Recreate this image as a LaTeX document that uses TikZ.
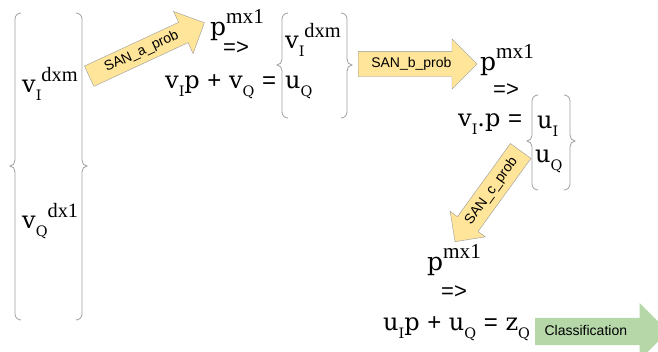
\documentclass[tikz,border=0pt]{standalone}
\usepackage{fontspec}
\usepackage{graphicx}
\setmainfont{DejaVu Serif}
\newfontfamily\opfont{Liberation Sans}
\newfontfamily\supfont{Liberation Serif}
\usetikzlibrary{shapes.arrows}
\definecolor{sanfill}{HTML}{FFE599}
\definecolor{clsfill}{HTML}{B6D7A8}
% sub- and superscripts set beside each other
\newcommand\lo[1]{\raisebox{-0.35em}{\scalebox{0.6}{#1}}}
\newcommand\hi[1]{\raisebox{0.45em}{\scalebox{0.85}{\supfont #1}}}
% braces: x, top, middle, bottom
\newcommand\bracel[4]{\draw[brace] ({#1+6},#2) to[out=180,in=90] (#1,{#2+6}) -- (#1,{#3-6})
  to[out=-90,in=0] ({#1-5},#3) to[out=0,in=90] (#1,{#3+6}) -- (#1,{#4-6}) to[out=-90,in=180] ({#1+6},#4);}
\newcommand\bracer[4]{\draw[brace] ({#1-6},#2) to[out=0,in=90] (#1,{#2+6}) -- (#1,{#3-6})
  to[out=-90,in=180] ({#1+5},#3) to[out=180,in=90] (#1,{#3+6}) -- (#1,{#4-6}) to[out=-90,in=0] ({#1-6},#4);}
\tikzset{
  brace/.style={draw=gray!75,line width=0.8pt},
  eq/.style={anchor=base west,inner sep=0pt,font=\fontsize{24}{24}\selectfont},
  pline/.style={anchor=base west,inner sep=0pt,font=\fontsize{25}{25}\selectfont},
  imp/.style={inner sep=0pt,font=\opfont\fontsize{22}{22}\selectfont},
  sanarrow/.style={single arrow,draw=gray!80,fill=sanfill,anchor=tail,
    font=\opfont\fontsize{14}{14}\selectfont,text height=10pt,text depth=3pt,
    inner xsep=3pt,inner ysep=#1,single arrow head extend=12.5pt},
}
\begin{document}
\begin{tikzpicture}[x=1pt,y=-1pt]
  \useasboundingbox (0,0) rectangle (658,351);
  % input vectors
  \bracel{15}{13}{166}{320}
  \bracer{82}{13}{166}{320}
  \node[eq] (vin) at (22,92) {v\lo{I}\hi{dxm}};
  \node[eq] (qin) at (22,228) {v\lo{Q}\hi{dx1}};
  \node[sanarrow=4.5pt,rotate=24.9,minimum height=127pt,single arrow head extend=12pt] (sana) at (89,76.3) {SAN\_a\_prob};
  % first step
  \node[pline] (pa) at (210,35) {p\hi{mx1}};
  \node[imp] (ia) at (236,48) {=>};
  \node[eq] (ea) at (165,88) {v\lo{I}p {\opfont+} v\lo{Q} {\opfont=}};
  \bracel{282}{13}{65}{118}
  \bracer{347}{13}{65}{118}
  \node[eq] (vb) at (285,48) {v\lo{I}\hi{dxm}};
  \node[eq] (ub) at (285,88) {u\lo{Q}};
  \node[sanarrow=6pt,minimum height=119pt] (sanb) at (358,64) {SAN\_b\_prob};
  % second step
  \node[pline] (pb) at (480,70) {p\hi{mx1}};
  \node[imp] (ib) at (506,90) {=>};
  \node[eq] (eb) at (458,126) {v\lo{I}.p {\opfont=}};
  \bracel{532}{95}{141}{190}
  \bracer{570}{95}{141}{190}
  \node[eq] (uc) at (537,128) {u\lo{I}};
  \node[eq] (qc) at (535,162) {u\lo{Q}};
  \node[sanarrow=6pt,rotate=54.1,shape border rotate=180,minimum height=112pt,single arrow head extend=9pt] (sanc) at (520.8,150.8) {SAN\_c\_prob};
  % third step
  \node[pline] (pc) at (427,270) {p\hi{mx1}};
  \node[imp] (ic) at (454,292) {=>};
  \node[eq] (ec) at (383,330) {u\lo{I}p {\opfont+} u\lo{Q} {\opfont=} z\lo{Q}};
  \node[sanarrow=7pt,draw=none,fill=clsfill,minimum height=133pt,single arrow head extend=15pt] (cls) at (535,331.5) {Classification\hspace*{18pt}};
\end{tikzpicture}
\end{document}
